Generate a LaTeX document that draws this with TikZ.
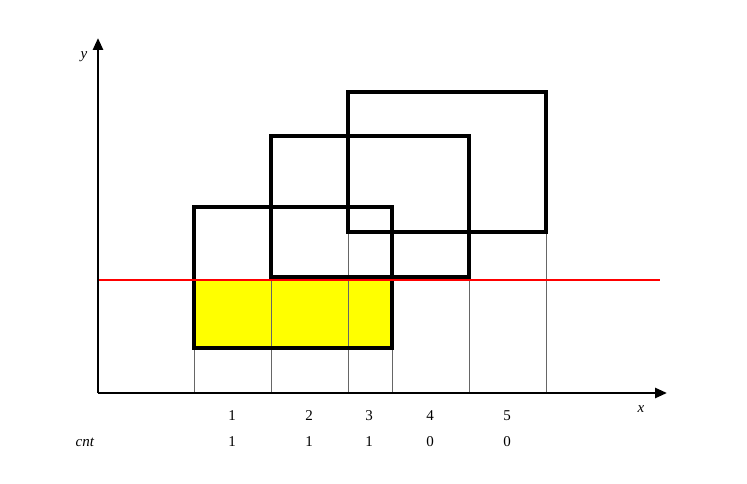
\documentclass[tikz,border=0pt]{standalone}
\usepackage{fontspec}
\setmainfont{Liberation Serif}
\usetikzlibrary{arrows.meta}
\definecolor{fillyellow}{RGB}{255,255,0}
\definecolor{redline}{RGB}{255,0,0}
\begin{document}
\begin{tikzpicture}[x=1pt,y=-1pt,
  box/.style={line width=3.05pt, line join=miter},
  guide/.style={line width=0.8pt, black!60},
  axis/.style={line width=2.6pt, -{Triangle[length=12pt,width=10pt]}},
  lbl/.style={font=\fontsize{15}{17}\selectfont, inner sep=0pt}]
\useasboundingbox (0,0) rectangle (747,484);
\coordinate (O) at (98,393);
\coordinate (xend) at (667,393);
\coordinate (yend) at (98,38);
% yellow fill
\fill[fillyellow] (194,280) rectangle (392,348);
% guides
\draw[guide] (194,348) -- (194,393);
\draw[guide] (271,277) -- (271,393);
\draw[guide] (348,232) -- (348,393);
\draw[guide] (392,348) -- (392,393);
\draw[guide] (469,277) -- (469,393);
\draw[guide] (546,232) -- (546,393);
% rectangles
\draw[box] (194,207) rectangle (392,348);
\draw[box] (271,136) rectangle (469,277);
\draw[box] (348,92) rectangle (546,232);
% red line
\coordinate (rl) at (98,280);
\coordinate (rr) at (660,280);
\draw[redline, line width=2pt] (rl) -- (rr);
% axes
\draw[axis] (O) -- (xend);
\draw[axis] (O) -- (yend);
\node[lbl] (xl) at (641,409) {\textit{x}};
\node[lbl] (yl) at (84,57) {\textit{y}};
% labels
\node[lbl] (n1) at (232,416) {1};
\node[lbl] (n2) at (309,416) {2};
\node[lbl] (n3) at (369,416) {3};
\node[lbl] (n4) at (430,416) {4};
\node[lbl] (n5) at (507,416) {5};
\node[lbl] (cnt) at (85,442) {\textit{cnt}};
\node[lbl] (c1) at (232,442) {1};
\node[lbl] (c2) at (309,442) {1};
\node[lbl] (c3) at (369,442) {1};
\node[lbl] (c4) at (430,442) {0};
\node[lbl] (c5) at (507,442) {0};
\end{tikzpicture}
\end{document}
